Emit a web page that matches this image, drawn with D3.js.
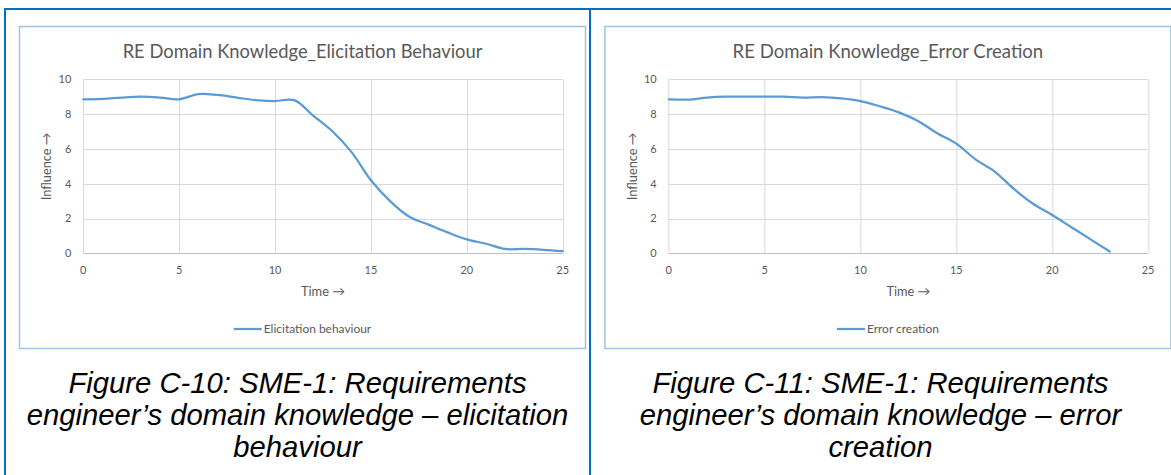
<!DOCTYPE html>
<html>
<head>
<meta charset="utf-8">
<script src="https://cdn.jsdelivr.net/npm/d3@7"></script>
<style>
  body { margin: 0; background: #fff; }
  svg { display: block; }
  .tick-label { font-family: Lato, "Open Sans", sans-serif; font-size: 12px; fill: #595959; }
  .chart-title { font-family: Lato, "Open Sans", sans-serif; font-size: 18.5px; fill: #595959; }
  .axis-title { font-family: Lato, "Open Sans", sans-serif; font-size: 12px; fill: #595959; }
  .legend-text { font-family: Lato, "Open Sans", sans-serif; font-size: 11px; fill: #595959; }
  .caption { font-family: "Liberation Sans", Arial, sans-serif; font-style: italic; font-size: 29px; fill: #000; }
</style>
</head>
<body>
<div id="vis"></div>
<script>
// Two smoothed line charts side by side, inside a blue-bordered table

/* *************************** Data ***************************** */

var elicitationTime = [0, 1, 2, 3, 4, 5, 6, 7, 8, 9, 10, 11, 12, 13, 14, 15, 16, 17, 18, 19, 20, 21, 22, 23, 24, 25];
var elicitationValues = [8.85, 8.87, 8.95, 9.0, 8.95, 8.85, 9.15, 9.1, 8.95, 8.8, 8.75, 8.8, 7.9, 7.0, 5.8, 4.2, 3.0, 2.1, 1.65, 1.2, 0.8, 0.55, 0.25, 0.25, 0.2, 0.12];

var errorTime = [0, 1, 2, 3, 4, 5, 6, 7, 8, 9, 10, 11, 12, 13, 14, 15, 16, 17, 18, 19, 20, 21, 22, 23];
var errorValues = [8.85, 8.83, 8.95, 9.0, 9.0, 9.0, 9.0, 8.95, 8.97, 8.9, 8.75, 8.45, 8.1, 7.6, 6.9, 6.3, 5.4, 4.7, 3.7, 2.85, 2.2, 1.5, 0.8, 0.1];

var xTicks = [0, 5, 10, 15, 20, 25];
var yTicks = [0, 2, 4, 6, 8, 10];

var charts = [
    {
        title: 'RE Domain Knowledge_Elicitation Behaviour',
        legend: 'Elicitation behaviour',
        time: elicitationTime,
        values: elicitationValues,
        caption: ['Figure C-10: SME-1: Requirements', 'engineer\u2019s domain knowledge \u2013 elicitation', 'behaviour']
    },
    {
        title: 'RE Domain Knowledge_Error Creation',
        legend: 'Error creation',
        time: errorTime,
        values: errorValues,
        caption: ['Figure C-11: SME-1: Requirements', 'engineer\u2019s domain knowledge \u2013 error', 'creation']
    }
];

/* *************************** Settings ***************************** */

var width = 1171;
var height = 475;

var tableColor = '#0070C0';
var frameColor = '#9DC3E6';
var gridColor = '#D9D9D9';
var lineColor = '#5B9BD5';

// Chart frame and plot area, relative to each table cell
var frame = { left: 19.5, top: 26.5, width: 566, height: 322 };
var plot = { left: 83.3, top: 79.3, right: 562.7, bottom: 253.3 };
var cellOffset = [0, 585.4];
var cellCenter = [297.5, 880.5];

// Widths the texts take in the reference, used to size the fonts
var titleWidths = [360, 311];
var legendWidths = [107.6, 72];

var svg = d3.select('#vis')
    .append('svg')
    .attr('width', width)
    .attr('height', height);

// Scale a text's font so that it takes up a given width
var fitFont = function(sel, target) {
    var size = parseFloat(window.getComputedStyle(sel.node()).fontSize);
    var w = sel.node().getComputedTextLength();
    var newSize = size * target / w;
    sel.style('font-size', newSize + 'px');
    return newSize;
};

/* *************************** Table borders ***************************** */

svg.append('line')
    .attr('x1', 4).attr('x2', width)
    .attr('y1', 9).attr('y2', 9)
    .attr('stroke', tableColor).attr('stroke-width', 2);

[5, 590].forEach(function(x) {
    svg.append('line')
        .attr('x1', x).attr('x2', x)
        .attr('y1', 8).attr('y2', height)
        .attr('stroke', tableColor).attr('stroke-width', 2);
});

/* *************************** Draw function ***************************** */

var drawChart = function(chart, i) {
    var g = svg.append('g')
        .attr('transform', 'translate(' + cellOffset[i] + ',0)');

    // Chart frame
    g.append('rect')
        .attr('x', frame.left)
        .attr('y', frame.top)
        .attr('width', frame.width)
        .attr('height', frame.height)
        .attr('fill', '#fff')
        .attr('stroke', frameColor)
        .attr('stroke-width', 1.5);

    var xScale = d3.scaleLinear()
        .domain([0, 25])
        .range([plot.left, plot.right]);

    var yScale = d3.scaleLinear()
        .domain([0, 10])
        .range([plot.bottom, plot.top]);

    // Horizontal gridlines
    g.append('g')
        .selectAll('line')
        .data(yTicks)
        .enter()
        .append('line')
        .attr('x1', plot.left)
        .attr('x2', plot.right)
        .attr('y1', function(d) { return Math.round(yScale(d)) + 0.5; })
        .attr('y2', function(d) { return Math.round(yScale(d)) + 0.5; })
        .attr('stroke', function(d) { return d === 0 ? '#BFBFBF' : gridColor; })
        .attr('stroke-width', 1);

    // Vertical gridlines
    g.append('g')
        .selectAll('line')
        .data(xTicks)
        .enter()
        .append('line')
        .attr('x1', function(d) { return Math.round(xScale(d)) + 0.5; })
        .attr('x2', function(d) { return Math.round(xScale(d)) + 0.5; })
        .attr('y1', plot.top)
        .attr('y2', plot.bottom)
        .attr('stroke', gridColor)
        .attr('stroke-width', 1);

    // Tick labels
    var yLabels = g.append('g')
        .selectAll('text')
        .data(yTicks)
        .enter()
        .append('text')
        .attr('class', 'tick-label')
        .attr('x', plot.left - 12)
        .attr('y', function(d) { return yScale(d); })
        .attr('dy', '0.35em')
        .attr('text-anchor', 'end')
        .text(function(d) { return d; });

    var xLabels = g.append('g')
        .selectAll('text')
        .data(xTicks)
        .enter()
        .append('text')
        .attr('class', 'tick-label')
        .attr('x', function(d) { return xScale(d); })
        .attr('y', plot.bottom + 17)
        .attr('dy', '0.35em')
        .attr('text-anchor', 'middle')
        .text(function(d) { return d; });

    // "10" is about 12.7px wide in the reference
    var tickSize = fitFont(yLabels.filter(function(d) { return d === 10; }), 12.7);
    yLabels.style('font-size', tickSize + 'px');
    xLabels.style('font-size', tickSize + 'px');

    // Title and axis titles
    var title = g.append('text')
        .attr('class', 'chart-title')
        .attr('x', frame.left + frame.width / 2)
        .attr('y', 52)
        .attr('dy', '0.35em')
        .attr('text-anchor', 'middle')
        .text(chart.title);
    fitFont(title, titleWidths[i]);

    var xTitle = g.append('text')
        .attr('class', 'axis-title')
        .attr('x', (plot.left + plot.right) / 2)
        .attr('y', 292)
        .attr('dy', '0.35em')
        .attr('text-anchor', 'middle')
        .text('Time \u2192');
    fitFont(xTitle, 44);

    var yTitle = g.append('text')
        .attr('class', 'axis-title')
        .attr('transform', 'translate(47,' + ((plot.top + plot.bottom) / 2) + ') rotate(-90)')
        .attr('dy', '0.35em')
        .attr('text-anchor', 'middle')
        .text('Influence \u2192');
    fitFont(yTitle, 68);

    // Data line
    var points = chart.time.map(function(t, k) {
        return [t, chart.values[k]];
    });

    var line = d3.line()
        .x(function(d) { return xScale(d[0]); })
        .y(function(d) { return yScale(d[1]); })
        .curve(d3.curveCatmullRom.alpha(0.5));

    g.append('path')
        .datum(points)
        .attr('d', line)
        .attr('fill', 'none')
        .attr('stroke', lineColor)
        .attr('stroke-width', 2.25)
        .attr('stroke-linecap', 'round');

    // Legend
    var legend = g.append('g');
    var legendText = legend.append('text')
        .attr('class', 'legend-text')
        .attr('y', 329)
        .attr('dy', '0.35em')
        .text(chart.legend);
    fitFont(legendText, legendWidths[i]);
    var textWidth = legendText.node().getComputedTextLength();
    var legendWidth = 28 + 2 + textWidth;
    var legendStart = frame.left + frame.width / 2 - legendWidth / 2;
    legend.append('line')
        .attr('x1', legendStart).attr('x2', legendStart + 28)
        .attr('y1', 329).attr('y2', 329)
        .attr('stroke', lineColor)
        .attr('stroke-width', 2.25);
    legendText.attr('x', legendStart + 30);

    // Caption below the chart
    var captions = svg.append('g')
        .selectAll('text')
        .data(chart.caption)
        .enter()
        .append('text')
        .attr('class', 'caption')
        .attr('x', cellCenter[i])
        .attr('y', function(d, k) { return 393 + k * 32; })
        .attr('text-anchor', 'middle')
        .text(function(d) { return d; });

    return captions;
};

var allCaptions = charts.map(drawChart);

// Size the captions from the longest line (about 542px in the reference)
var captionSize = fitFont(allCaptions[0].filter(function(d, k) { return k === 1; }), 542);
allCaptions.forEach(function(c) { c.style('font-size', captionSize + 'px'); });
</script>
</body>
</html>
